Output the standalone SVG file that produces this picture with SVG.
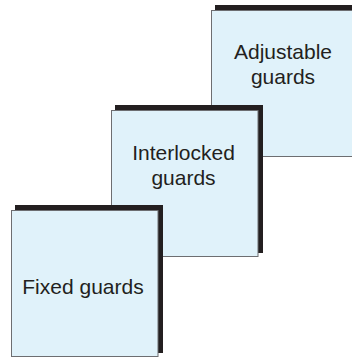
<svg xmlns="http://www.w3.org/2000/svg" width="352" height="358" viewBox="0 0 352 358">
<style>
.sh{fill:#231f20}
.bx{fill:#e0f2fa;stroke:#6d6e71;stroke-width:1}
.t{font-family:"Liberation Sans",Arial,sans-serif;font-size:21px;fill:#231f20;text-anchor:middle}
</style>
<rect width="352" height="358" fill="#ffffff"/>
<g id="adjustable">
<rect class="sh" x="215" y="5" width="148" height="148"/>
<rect class="bx" x="211.5" y="10.5" width="146.5" height="146"/>
<text class="t" x="283" y="59">Adjustable</text>
<text class="t" x="283" y="84">guards</text>
</g>
<g id="interlocked">
<rect class="sh" x="115" y="105" width="148" height="148"/>
<rect class="bx" x="111.5" y="110.5" width="146.5" height="146"/>
<text class="t" x="183.5" y="160">Interlocked</text>
<text class="t" x="183.5" y="185">guards</text>
</g>
<g id="fixed">
<rect class="sh" x="15" y="205" width="148" height="148"/>
<rect class="bx" x="11.5" y="210.5" width="146.5" height="146"/>
<text class="t" x="83" y="294">Fixed guards</text>
</g>
<g id="connectors"></g>
</svg>
